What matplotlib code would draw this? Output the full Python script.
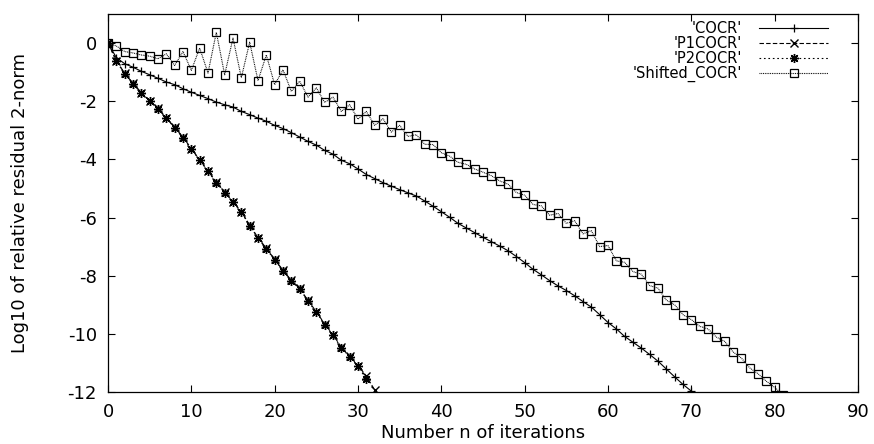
import matplotlib
matplotlib.use("Agg")
import matplotlib.pyplot as plt

plt.rcParams["font.family"] = ["DejaVu Sans"]
plt.rcParams["axes.unicode_minus"] = False

# log10 residuals, one value per iteration
cocr = [0, -0.50, -0.71, -0.83, -0.97, -1.09, -1.21, -1.34, -1.43, -1.57,
        -1.69, -1.80, -1.91, -2.03, -2.12, -2.20, -2.35, -2.46, -2.58, -2.69,
        -2.83, -2.94, -3.08, -3.23, -3.38, -3.51, -3.69, -3.82, -4.03, -4.15,
        -4.33, -4.52, -4.66, -4.80, -4.92, -5.04, -5.15, -5.26, -5.43, -5.61,
        -5.80, -5.99, -6.20, -6.36, -6.52, -6.68, -6.83, -6.98, -7.14, -7.34,
        -7.55, -7.78, -7.97, -8.17, -8.35, -8.51, -8.69, -8.89, -9.08, -9.34,
        -9.61, -9.83, -10.09, -10.29, -10.49, -10.71, -10.94, -11.21, -11.48, -11.74,
        -11.97]

p1cocr = [0, -0.60, -1.04, -1.38, -1.70, -1.98, -2.25, -2.57, -2.90, -3.23,
          -3.63, -4.01, -4.40, -4.78, -5.12, -5.45, -5.80, -6.26, -6.69, -7.06,
          -7.44, -7.81, -8.16, -8.44, -8.85, -9.24, -9.66, -10.03, -10.46, -10.77,
          -11.09, -11.45, -11.93]

p2cocr = [0, -0.62, -1.06, -1.40, -1.72, -1.99, -2.26, -2.58, -2.92, -3.25,
          -3.65, -4.03, -4.41, -4.80, -5.14, -5.46, -5.82, -6.28, -6.71, -7.08,
          -7.46, -7.83, -8.18, -8.45, -8.87, -9.26, -9.68, -10.05, -10.48, -10.79,
          -11.11, -11.57]

shifted = [0, -0.10, -0.29, -0.34, -0.41, -0.45, -0.54, -0.37, -0.77, -0.29,
           -0.94, -0.17, -1.03, 0.37, -1.09, 0.17, -1.19, 0.03, -1.29, -0.41,
           -1.43, -0.92, -1.66, -1.31, -1.86, -1.54, -2.04, -1.86, -2.35, -2.12,
           -2.62, -2.35, -2.83, -2.60, -3.06, -2.83, -3.21, -3.15, -3.48, -3.49,
           -3.77, -3.89, -4.10, -4.17, -4.33, -4.44, -4.56, -4.74, -4.85, -5.14,
           -5.23, -5.55, -5.60, -5.92, -5.86, -6.20, -6.11, -6.56, -6.45, -7.00,
           -6.96, -7.49, -7.54, -7.86, -7.95, -8.34, -8.43, -8.84, -9.00, -9.34,
           -9.51, -9.74, -9.83, -10.11, -10.26, -10.62, -10.83, -11.17, -11.37, -11.63,
           -11.84, -12.10]

xticks = list(range(0, 91, 10))
yticks = list(range(-12, 1, 2))

fig = plt.figure(figsize=(8.74, 4.44), dpi=100)
ax = fig.add_axes([108 / 874, 1 - 392 / 444, 750 / 874, 378 / 444])

ax.plot(range(len(cocr)), cocr, color="black", lw=0.8, ls="-",
        marker="+", ms=6, mew=0.9, label="'COCR'")
ax.plot(range(len(p1cocr)), p1cocr, color="black", lw=0.8, ls=(0, (4, 2)),
        marker="x", ms=5.5, mew=1.0, label="'P1COCR'")
ax.plot(range(len(p2cocr)), p2cocr, color="black", lw=0.8, ls=(0, (1.5, 2.5)),
        marker=(8, 2, 0), ms=6.5, mew=1.0, label="'P2COCR'")
ax.plot(range(len(shifted)), shifted, color="black", lw=0.8, ls=(0, (0.8, 0.8)),
        marker="s", ms=6, mew=0.9, mfc="none", label="'Shifted_COCR'")

ax.set_xlim(0, 90)
ax.set_ylim(-12, 1)
ax.set_xticks(xticks)
ax.set_yticks(yticks)
ax.tick_params(direction="in", length=5, width=0.8, top=True, right=True,
               labelsize=13, pad=8)
for s in ax.spines.values():
    s.set_linewidth(0.9)

ax.set_xlabel("Number n of iterations", fontsize=13)
ax.xaxis.set_label_coords(0.5, -0.085)
ax.set_ylabel("Log10 of relative residual 2-norm", fontsize=13)
ax.yaxis.set_label_coords(-0.105, 0.5)

ax.legend(loc="upper right", bbox_to_anchor=(0.96, 0.982), frameon=False,
          markerfirst=False, fontsize=10.5, handlelength=4.7, handletextpad=1.2,
          labelspacing=0.0, borderaxespad=0, borderpad=0)

fig.savefig("out.png", dpi=100)
